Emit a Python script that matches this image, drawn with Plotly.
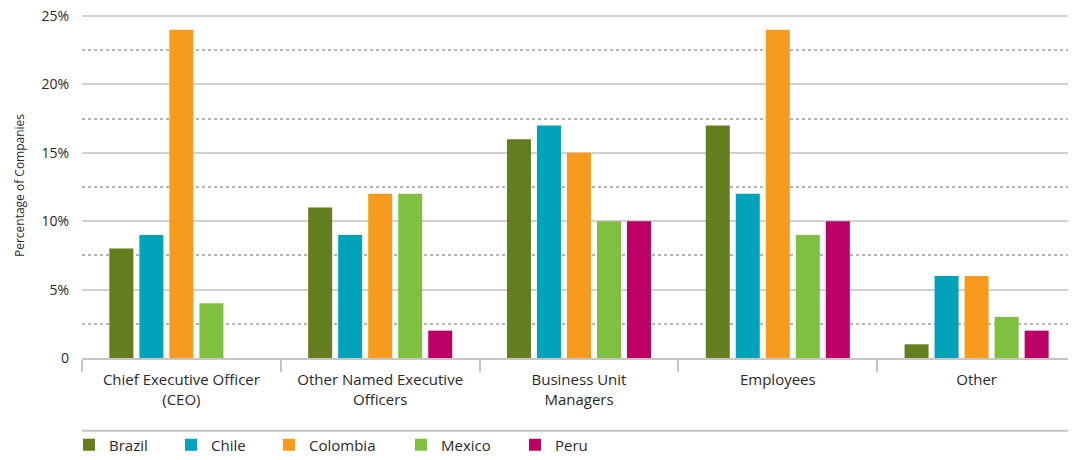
import plotly.graph_objects as go

# Categories and series
categories = [
    "Chief Executive Officer<br>(CEO)",
    "Other Named Executive<br>Officers",
    "Business Unit<br>Managers",
    "Employees",
    "Other",
]
brazil = [8, 11, 16, 17, 1]
chile = [9, 9, 17, 12, 6]
colombia = [24, 12, 15, 24, 6]
mexico = [4, 12, 10, 9, 3]
peru = [0, 2, 10, 10, 2]

y_tickvals = [0, 5, 10, 15, 20, 25]
y_ticktext = ["0", "5%", "10%", "15%", "20%", "25%"]

series = [
    ("Brazil", brazil, "#647d1e"),
    ("Chile", chile, "#00a3ba"),
    ("Colombia", colombia, "#f79b1e"),
    ("Mexico", mexico, "#80c040"),
    ("Peru", peru, "#bb0066"),
]

# the page body adds an 8px margin, so the figure is drawn 8px smaller
W, H = 1068, 452
# left edge of each legend entry (one legend per country, as in the reference)
legend_left = [61, 163, 261, 393, 507]

fig = go.Figure()
layout_legends = {}
for i, (name, values, color) in enumerate(series):
    key = "legend" if i == 0 else f"legend{i + 1}"
    fig.add_trace(
        go.Bar(
            x=categories,
            y=values,
            name=name,
            legend=key,
            marker=dict(color=color, line=dict(width=0)),
        )
    )
    layout_legends[key] = dict(
        orientation="h",
        xref="container",
        yref="container",
        x=legend_left[i] / W,
        xanchor="left",
        y=15 / H,
        yanchor="middle",
        bgcolor="rgba(0,0,0,0)",
        font=dict(size=15, color="#2a2a2a"),
        itemwidth=30,
    )

fig.update_layout(
    width=W,
    height=H,
    margin=dict(l=74, r=0, t=5, b=102, autoexpand=False),
    plot_bgcolor="white",
    paper_bgcolor="white",
    font=dict(family="Open Sans", size=14, color="#2a2a2a"),
    barmode="group",
    bargap=0.245,
    bargroupgap=0.2,
    showlegend=True,
    shapes=[
        dict(
            type="line",
            xref="paper",
            yref="paper",
            x0=0,
            x1=1,
            y0=-0.211,
            y1=-0.211,
            line=dict(color="#c8c4c4", width=2),
        )
    ],
    **layout_legends,
)

fig.update_xaxes(
    automargin=False,
    showline=True,
    linecolor="#c8c4c4",
    linewidth=2,
    ticks="outside",
    tickson="boundaries",
    ticklen=12,
    tickwidth=2,
    tickcolor="#c8c4c4",
    ticklabelstandoff=7,
    tickfont=dict(size=15, color="#2a2a2a"),
    showgrid=False,
)

fig.update_yaxes(
    automargin=False,
    range=[0, 25.22],
    tickvals=y_tickvals,
    ticktext=y_ticktext,
    tickfont=dict(size=14, color="#2a2a2a"),
    ticklabeloverflow="allow",
    showgrid=True,
    gridcolor="#d5d0d0",
    gridwidth=1.5,
    zeroline=False,
    showline=False,
    ticks="",
    ticklabelstandoff=12,
    minor=dict(dtick=2.5, showgrid=True, gridcolor="#b5b5b5", griddash="dot", gridwidth=1.5),
    title=dict(text="Percentage of Companies", font=dict(size=12, color="#2a2a2a"), standoff=14),
)

fig.write_html("out.html")
